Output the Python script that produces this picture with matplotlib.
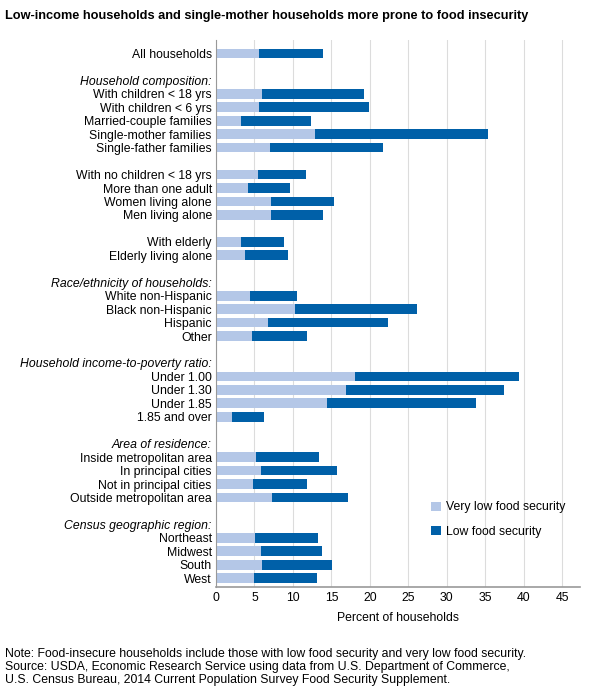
import matplotlib.pyplot as plt

plt.rcParams['font.family'] = ['Liberation Sans', 'DejaVu Sans']

# rows: (label, very low, total food insecure); None values = header/blank
rows = [
    ("All households", 5.6, 13.9),
    ("", None, None),
    ("Household composition:", None, None),
    ("With children < 18 yrs", 6.0, 19.2),
    ("With children < 6 yrs", 5.6, 19.9),
    ("Married-couple families", 3.3, 12.4),
    ("Single-mother families", 12.8, 35.3),
    ("Single-father families", 7.0, 21.7),
    ("", None, None),
    ("With no children < 18 yrs", 5.4, 11.7),
    ("More than one adult", 4.2, 9.6),
    ("Women living alone", 7.2, 15.3),
    ("Men living alone", 7.2, 13.9),
    ("", None, None),
    ("With elderly", 3.3, 8.9),
    ("Elderly living alone", 3.8, 9.3),
    ("", None, None),
    ("Race/ethnicity of households:", None, None),
    ("White non-Hispanic", 4.4, 10.5),
    ("Black non-Hispanic", 10.3, 26.1),
    ("Hispanic", 6.8, 22.4),
    ("Other", 4.7, 11.8),
    ("", None, None),
    ("Household income-to-poverty ratio:", None, None),
    ("Under 1.00", 18.0, 39.4),
    ("Under 1.30", 16.9, 37.4),
    ("Under 1.85", 14.4, 33.8),
    ("1.85 and over", 2.1, 6.3),
    ("", None, None),
    ("Area of residence:", None, None),
    ("Inside metropolitan area", 5.2, 13.4),
    ("In principal cities", 5.9, 15.7),
    ("Not in principal cities", 4.8, 11.8),
    ("Outside metropolitan area", 7.3, 17.1),
    ("", None, None),
    ("Census geographic region:", None, None),
    ("Northeast", 5.1, 13.3),
    ("Midwest", 5.8, 13.8),
    ("South", 6.0, 15.1),
    ("West", 4.9, 13.1),
]

labels = [r[0] for r in rows]
light_c = "#b4c7e7"
dark_c = "#0060a8"

fig = plt.figure(figsize=(5.96, 6.98), dpi=100)
ax = fig.add_axes([216/596, 1-587/698, (580-216)/596, (587-40)/698])

for i, (lab, vl, tot) in enumerate(rows):
    if vl is None:
        continue
    ax.barh(i, vl, height=0.72, color=light_c, label="Very low food security" if i == 0 else None)
    ax.barh(i, tot - vl, left=vl, height=0.72, color=dark_c, label="Low food security" if i == 0 else None)

ax.set_ylim(len(rows) - 0.35, -1.0)
ax.set_xlim(0, 47.3)
ax.set_xticks(range(0, 50, 5))
ax.set_yticks(range(len(rows)))
ax.set_yticklabels(labels, fontsize=8.8)
for t, (lab, vl, tot) in zip(ax.get_yticklabels(), rows):
    if vl is None:
        t.set_style("italic")
ax.tick_params(axis="y", length=0, pad=3)
ax.tick_params(axis="x", length=0, labelsize=8.8)
ax.xaxis.grid(True, color="#dcdcdc", lw=0.8)
ax.set_axisbelow(True)
for s in ["top", "right"]:
    ax.spines[s].set_visible(False)
ax.spines["left"].set_color("#999999")
ax.spines["bottom"].set_color("#999999")
ax.spines["bottom"].set_linewidth(1.2)
ax.set_xlabel("Percent of households", fontsize=8.8, labelpad=6)

ax.legend(loc="lower right", bbox_to_anchor=(0.99, 0.07), frameon=False, fontsize=8.8,
          handlelength=0.8, handleheight=0.8, labelspacing=1.0, handletextpad=0.4)

fig.text(0.008, 0.985, "Low-income households and single-mother households more prone to food insecurity",
         fontsize=9.2, fontweight="bold", va="top")
fig.text(0.008, 0.072, "Note: Food-insecure households include those with low food security and very low food security.\n"
         "Source: USDA, Economic Research Service using data from U.S. Department of Commerce,\n"
         "U.S. Census Bureau, 2014 Current Population Survey Food Security Supplement.",
         fontsize=8.8, va="top", linespacing=1.1)

fig.savefig("out.png", dpi=100)
